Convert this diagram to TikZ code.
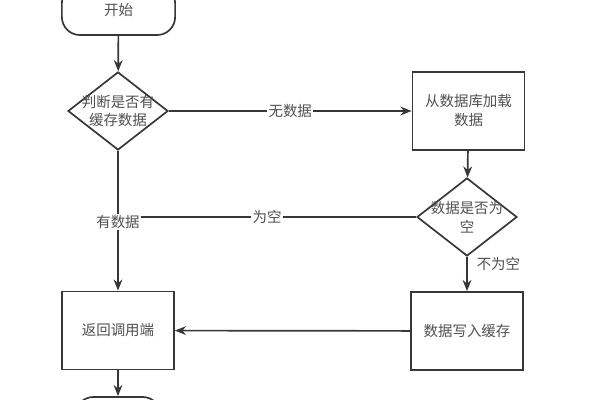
\documentclass[tikz,border=0pt]{standalone}
\usepackage{fontspec}
\setmainfont{Noto Sans CJK SC}
\usetikzlibrary{arrows.meta,shapes.geometric}
\definecolor{line_gray}{RGB}{55,55,55}
\definecolor{text_gray}{RGB}{80,80,80}

\begin{document}
\begin{tikzpicture}[->,line width=1.2pt,>={Stealth[length=2.8mm,width=2.2mm]},x=0.025cm,y=-0.025cm,font=\fontsize{10.3}{13.5}\selectfont]
    \tikzstyle{node}=[draw=line_gray, text=text_gray, align=center, fill=white]
    \tikzstyle{term}=[style=node, rounded corners=0.45cm, minimum width=2.83cm, minimum height=1.25cm]
    \tikzstyle{proc}=[style=node, minimum width=2.8cm, minimum height=1.95cm]
    \tikzstyle{cond}=[style=node, diamond, minimum width=2.5cm, minimum height=1.95cm, inner sep=0pt]
    \tikzstyle{lbl}=[text=text_gray, fill=white, inner sep=1pt]

    \useasboundingbox (0,0) rectangle (600,400);

    \node[term] (start) at (118.5,10)  {开始};
    \node[cond, label={[align=center,text=text_gray]center:判断是否有\\缓存数据}] (hit) at (118,111) {};
    \node[proc] (load)  at (468.5,111) {从数据库加载\\数据};
    \node[cond, label={[align=center,text=text_gray]center:数据是否为\\空}] (empty) at (467,217) {};
    \node[proc] (write) at (467,331)   {数据写入缓存};
    \node[proc] (ret)   at (118,330.5) {返回调用端};
    \node[term, minimum width=2.13cm] (stop) at (118,422) {};
    \coordinate (join) at (118,217);

    \draw[line_gray] (start) -- (hit);
    \draw[line_gray] (hit) -- node[lbl] {无数据} (load);
    \draw[line_gray] (load) -- (empty);
    \draw[line_gray,-] (empty) -- node[lbl] {为空} (join);
    \draw[line_gray] (hit) -- node[lbl, pos=0.51] {有数据} (ret);
    \draw[line_gray] (empty) -- node[text=text_gray, pos=0.2, right=3pt] {不为空} (write);
    \draw[line_gray] (write) -- (ret);
    \draw[line_gray] (ret) -- (stop);
\end{tikzpicture}
\end{document}
